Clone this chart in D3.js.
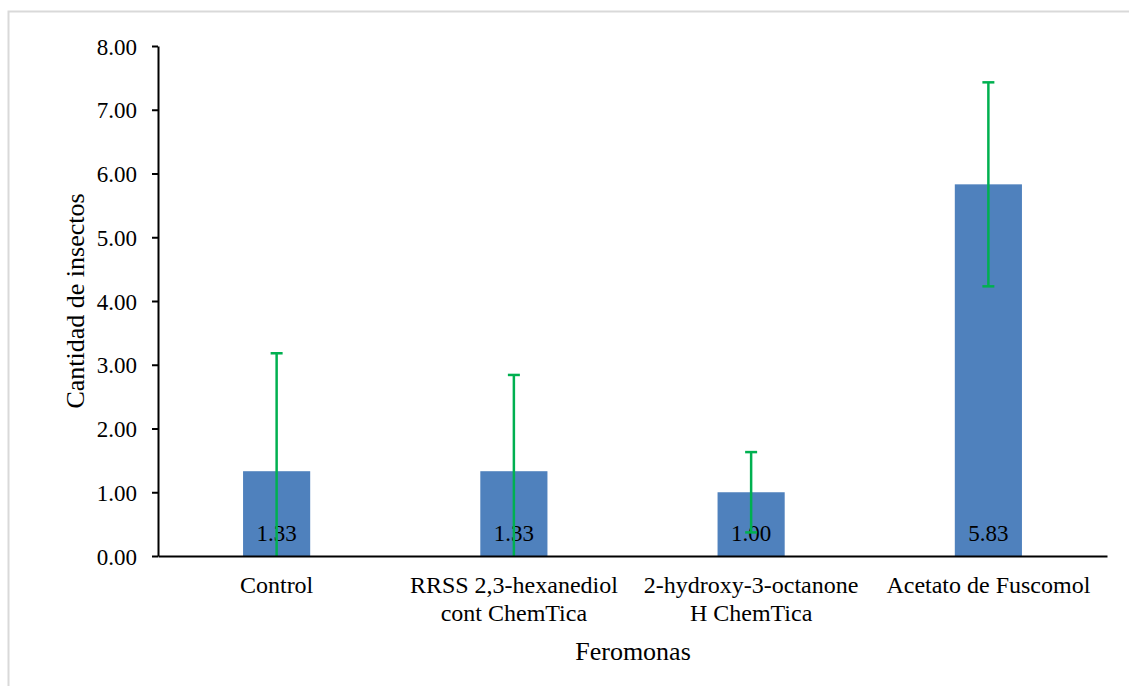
<!DOCTYPE html>
<html><head><meta charset="utf-8">
<script src="https://cdn.jsdelivr.net/npm/d3@7"></script>
<style>body{margin:0;background:#fff}svg{display:block}svg text{font-family:"Liberation Serif","Times New Roman",serif !important;fill:#000}</style>
</head><body>
<svg id="c" width="1129" height="686"></svg>
<script>
const categories = [["Control"], ["RRSS 2,3-hexanediol", "cont ChemTica"], ["2-hydroxy-3-octanone", "H ChemTica"], ["Acetato de Fuscomol"]];
const means = [1.33, 1.33, 1.00, 5.83];
const errors = [1.85, 1.51, 0.63, 1.60];
const yTicks = [0, 1, 2, 3, 4, 5, 6, 7, 8];

const SERIF = '"Liberation Serif","Times New Roman",serif';
const svg = d3.select("#c");
svg.append("rect").attr("x", 8.5).attr("y", 11.5).attr("width", 1140).attr("height", 700)
  .attr("fill", "#fff").attr("stroke", "#d9d9d9").attr("stroke-width", 2);

const L = 158, R = 1107, T = 46, B = 556;
const ids = categories.map((d, i) => i);
const x = d3.scaleBand().domain(ids).range([L, R]).paddingInner(0.717).paddingOuter(0.3585);
const y = d3.scaleLinear().domain([0, 8]).range([B, T]);

// bars
svg.selectAll(".bar").data(means).join("rect")
  .attr("x", (d, i) => x(i)).attr("width", x.bandwidth())
  .attr("y", d => y(d)).attr("height", d => B - y(d)).attr("fill", "#4f81bd");

// data labels
svg.selectAll(".lbl").data(means).join("text")
  .attr("x", (d, i) => x(i) + x.bandwidth() / 2).attr("y", B - 15)
  .attr("text-anchor", "middle").style("font-family", SERIF).attr("font-size", 23).text(d => d.toFixed(2));

// error bars
const eg = svg.append("g").attr("stroke", "#00b050").attr("stroke-width", 2.5);
means.forEach((m, i) => {
  const cx = x(i) + x.bandwidth() / 2;
  const hi = m + errors[i], lo = m - errors[i];
  const ylo = lo < 0 ? y(0) : y(lo);
  eg.append("line").attr("x1", cx).attr("x2", cx).attr("y1", y(hi)).attr("y2", ylo);
  eg.append("line").attr("x1", cx - 6).attr("x2", cx + 6).attr("y1", y(hi)).attr("y2", y(hi));
  if (lo >= 0) eg.append("line").attr("x1", cx - 6).attr("x2", cx + 6).attr("y1", y(lo)).attr("y2", y(lo));
});

// y axis
const ya = svg.append("g").attr("transform", `translate(${L},0)`)
  .call(d3.axisLeft(y).tickValues(yTicks).tickSize(6).tickSizeOuter(0).tickFormat(d3.format(".2f")));
ya.attr("font-family", null);
ya.select(".domain").attr("stroke", "#000").attr("stroke-width", 2);
ya.selectAll(".tick line").attr("stroke", "#000").attr("stroke-width", 2);
ya.selectAll(".tick text").style("font-family", SERIF).attr("font-size", 23).attr("fill", "#000").attr("x", -21).attr("dy", "0.35em");

// x axis
const xa = svg.append("g").attr("transform", `translate(0,${B})`)
  .call(d3.axisBottom(x).tickSize(0).tickSizeOuter(0).tickFormat(""));
xa.select(".domain").attr("stroke", "#000").attr("stroke-width", 2);
categories.forEach((lines, i) => {
  const t = svg.append("text").attr("x", x(i) + x.bandwidth() / 2).attr("y", 593)
    .attr("text-anchor", "middle").style("font-family", SERIF).attr("font-size", 24);
  lines.forEach((s, j) => t.append("tspan").attr("x", x(i) + x.bandwidth() / 2).attr("dy", j ? 28 : 0).text(s));
});

svg.append("text").attr("x", 633).attr("y", 660).attr("text-anchor", "middle").style("font-family", SERIF).attr("font-size", 26).text("Feromonas");
svg.append("text").attr("transform", "translate(84,301) rotate(-90)").attr("text-anchor", "middle").style("font-family", SERIF).attr("font-size", 26).text("Cantidad de insectos");
</script>
</body></html>
